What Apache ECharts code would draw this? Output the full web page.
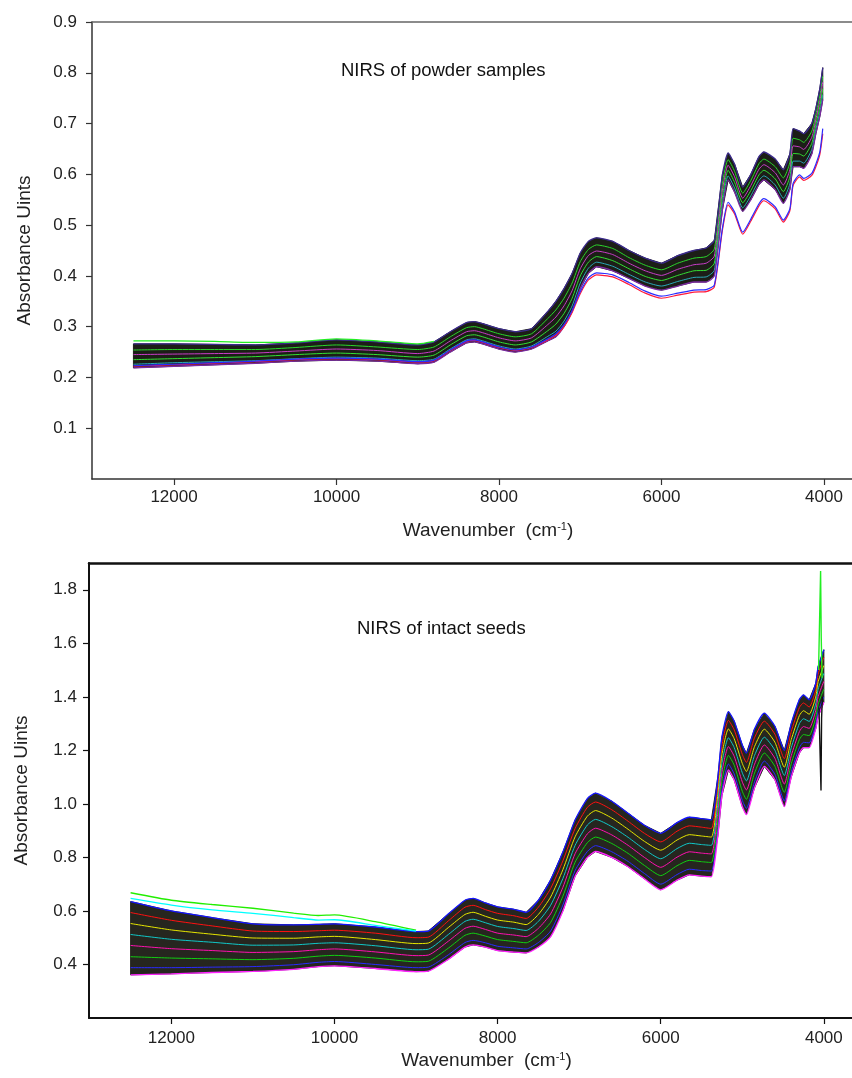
<!DOCTYPE html>
<html>
<head>
<meta charset="utf-8">
<script src="https://cdn.jsdelivr.net/npm/echarts@6/dist/echarts.min.js"></script>
<style>html,body{margin:0;padding:0;background:#fff}#c{width:852px;height:1078px}</style>
</head>
<body>
<div id="c"></div>
<script>
// ---------- Panel 1: NIRS of powder samples ----------
const powderWavenumbers = [12500,12000,11500,11000,10500,10000,9500,9000,8800,8600,8400,8300,8200,8000,7800,7600,7400,7300,7200,7100,7000,6900,6800,6600,6400,6200,6000,5800,5600,5450,5350,5250,5180,5100,5000,4900,4800,4740,4600,4500,4420,4380,4300,4250,4150,4100,4050,4015];
const powderUpper = [.266,.266,.265,.264,.268,.274,.270,.264,.270,.290,.308,.310,.306,.296,.290,.296,.330,.350,.375,.405,.445,.468,.475,.468,.450,.435,.425,.440,.450,.455,.470,.600,.642,.620,.575,.600,.635,.644,.630,.609,.640,.690,.685,.680,.700,.730,.770,.810];
const powderLower = [.219,.222,.225,.228,.232,.234,.232,.227,.230,.250,.268,.270,.266,.256,.250,.256,.272,.280,.300,.330,.375,.405,.418,.410,.395,.380,.372,.380,.388,.388,.400,.530,.589,.565,.527,.550,.580,.589,.570,.543,.570,.615,.615,.612,.640,.680,.715,.747];
const powderLine1 = [.254,.255,.255,.255,.259,.264,.260,.255,.260,.280,.298,.300,.296,.286,.280,.286,.316,.333,.356,.386,.428,.452,.461,.454,.436,.421,.412,.425,.435,.438,.453,.583,.629,.606,.563,.588,.621,.630,.615,.593,.623,.671,.668,.663,.685,.718,.756,.794];
const powderLine2 = [.245,.246,.247,.248,.252,.256,.253,.247,.252,.272,.290,.292,.288,.278,.272,.278,.304,.319,.341,.371,.414,.440,.449,.442,.425,.410,.401,.413,.422,.425,.439,.569,.618,.595,.553,.578,.610,.619,.603,.579,.609,.656,.654,.649,.673,.708,.745,.782];
const powderLine3 = [.235,.237,.239,.241,.245,.248,.245,.240,.244,.264,.282,.284,.280,.270,.264,.270,.292,.305,.326,.356,.400,.427,.438,.430,.414,.399,.391,.401,.410,.411,.425,.555,.608,.584,.544,.568,.599,.608,.591,.566,.595,.641,.640,.636,.661,.698,.734,.769];
const powderLine4 = [.226,.229,.231,.233,.237,.240,.238,.233,.236,.256,.274,.276,.272,.262,.256,.262,.281,.291,.311,.341,.386,.415,.427,.419,.403,.388,.380,.389,.397,.398,.411,.541,.597,.573,.534,.558,.588,.597,.579,.553,.581,.626,.626,.622,.649,.688,.723,.757];
const powderOutlierRed = [.222,.225,.228,.231,.235,.237,.235,.230,.233,.253,.271,.273,.269,.259,.253,.259,.274,.283,.300,.328,.365,.392,.402,.398,.383,.366,.356,.362,.368,.369,.378,.490,.540,.522,.482,.508,.538,.548,.532,.506,.528,.578,.595,.588,.598,.615,.640,.680];
const powderOutlierBlue = [.223,.226,.229,.232,.236,.238,.236,.231,.234,.254,.272,.274,.270,.260,.254,.260,.276,.286,.304,.332,.369,.396,.406,.402,.387,.370,.360,.366,.372,.373,.382,.494,.545,.526,.486,.512,.542,.552,.536,.510,.532,.582,.599,.592,.602,.620,.645,.690];
const powderGreenTopW = [12500,12000,11500,11000,10500,10000,9500,9000,8800];
const powderGreenTop = [.272,.272,.271,.269,.270,.276,.272,.266,.271];

// ---------- Panel 2: NIRS of intact seeds ----------
const seedWavenumbers = [12500,12000,11500,11000,10500,10200,10000,9500,9000,8850,8600,8400,8300,8150,8000,7800,7650,7500,7350,7200,7050,6900,6800,6600,6400,6200,6000,5800,5650,5500,5380,5300,5250,5170,5100,5000,4950,4850,4730,4600,4485,4400,4300,4250,4180,4100,4070,4000];
const seedUpper = [.635,.600,.575,.552,.548,.550,.552,.540,.523,.525,.590,.640,.647,.630,.615,.606,.595,.640,.716,.820,.940,1.020,1.040,1.010,.965,.920,.890,.930,.950,.945,.940,1.100,1.250,1.345,1.310,1.220,1.190,1.280,1.339,1.290,1.200,1.300,1.390,1.407,1.389,1.450,1.513,1.576];
const seedLower = [.361,.365,.370,.374,.382,.392,.395,.385,.373,.375,.420,.465,.473,.465,.452,.446,.443,.465,.504,.600,.730,.800,.822,.800,.765,.720,.679,.715,.735,.730,.728,.880,1.030,1.127,1.090,.990,.960,1.060,1.140,1.090,.990,1.100,1.190,1.210,1.210,1.280,1.326,1.380];
const seedLine1 = [.594,.565,.544,.525,.523,.526,.528,.517,.500,.502,.564,.614,.621,.605,.591,.582,.572,.614,.684,.787,.908,.987,1.007,.978,.935,.890,.858,.898,.918,.913,.908,1.067,1.217,1.312,1.277,1.185,1.155,1.247,1.309,1.260,1.169,1.270,1.360,1.377,1.362,1.424,1.485,1.547];
const seedLine2 = [.553,.529,.513,.499,.498,.503,.505,.493,.478,.480,.539,.587,.595,.580,.566,.558,.549,.587,.652,.754,.877,.954,.975,.947,.905,.860,.827,.865,.885,.880,.876,1.034,1.184,1.280,1.244,1.151,1.121,1.214,1.279,1.230,1.137,1.240,1.330,1.348,1.335,1.399,1.457,1.517];
const seedLine3 = [.512,.494,.483,.472,.473,.479,.481,.470,.455,.457,.513,.561,.569,.556,.542,.534,.527,.561,.621,.721,.845,.921,.942,.915,.875,.830,.795,.833,.853,.848,.845,1.001,1.151,1.247,1.211,1.116,1.086,1.181,1.249,1.200,1.106,1.210,1.300,1.318,1.308,1.373,1.429,1.488];
const seedLine4 = [.471,.459,.452,.445,.448,.455,.458,.447,.433,.435,.488,.535,.543,.531,.517,.510,.504,.535,.589,.688,.814,.888,.909,.884,.845,.800,.763,.801,.821,.816,.813,.968,1.118,1.214,1.178,1.082,1.052,1.148,1.220,1.170,1.074,1.180,1.270,1.289,1.282,1.348,1.401,1.458];
const seedLine5 = [.429,.424,.421,.418,.423,.431,.434,.424,.410,.412,.462,.509,.517,.506,.493,.486,.481,.509,.557,.655,.782,.855,.876,.852,.815,.770,.732,.769,.789,.784,.781,.935,1.085,1.181,1.145,1.047,1.017,1.115,1.190,1.140,1.043,1.150,1.240,1.259,1.255,1.322,1.373,1.429];
const seedLine6 = [.388,.388,.390,.392,.399,.408,.411,.400,.388,.390,.437,.482,.490,.481,.468,.462,.458,.482,.525,.622,.751,.822,.844,.821,.785,.740,.700,.736,.756,.751,.749,.902,1.052,1.149,1.112,1.013,.983,1.082,1.160,1.110,1.011,1.120,1.210,1.230,1.228,1.297,1.345,1.400];
const seedTopW = [12500,12000,11500,11000,10500,10200,10000,9500,9000];
const seedGreenTop = [.668,.640,.624,.610,.592,.583,.585,.560,.528];
const seedCyanTop = [.647,.622,.604,.591,.575,.566,.567,.546,.525];
const seedSpikeUpW = [4065,4040,4032,4022];
const seedSpikeUp = [1.50,1.87,1.62,1.47];
const seedSpikeDownW = [4060,4035,4028,4018];
const seedSpikeDown = [1.36,1.05,1.32,1.40];

// ---------- Axis ticks ----------
const xTicks = [4000,6000,8000,10000,12000];
const yTicksPowder = [0.1,0.2,0.3,0.4,0.5,0.6,0.7,0.8,0.9];
const yTicksSeed = [0.4,0.6,0.8,1.0,1.2,1.4,1.6,1.8];

const FONT = "'Liberation Sans', Arial, Helvetica, sans-serif";
const pairs = (ws, vs) => ws.map((w, i) => [w, vs[i]]);

function line(grid, ws, vs, color, width, z, smooth) {
  return {type: 'line', xAxisIndex: grid * 2, yAxisIndex: grid, data: pairs(ws, vs),
    showSymbol: false, symbol: 'none', smooth: smooth === undefined ? 0.2 : smooth, z: z || 3,
    lineStyle: {color: color, width: width || 1}, silent: true};
}
// filled envelope between upper and lower spectra, positioned through the axes (api.coord)
function band(grid, ws, top, bot, fill) {
  return {type: 'custom', coordinateSystem: 'cartesian2d', xAxisIndex: grid * 2, yAxisIndex: grid,
    data: [[ws[0], top[0]]], clip: true, silent: true, z: 1,
    renderItem: function (params, api) {
      const upper = ws.map((w, i) => api.coord([w, top[i]]));
      const lower = ws.map((w, i) => api.coord([w, bot[i]])).reverse();
      return {type: 'polygon', shape: {points: upper.concat(lower)},
        style: {fill: fill, stroke: fill, lineWidth: 1}};
    }};
}

function xAxisPair(grid, lineColor, lineW, topColor, topW, labelMargin, nameGap) {
  return [
    {type: 'value', gridIndex: grid, inverse: true, min: 3655, max: 13010, position: 'bottom',
      axisLine: {show: true, onZero: false, lineStyle: {color: lineColor, width: lineW}},
      axisTick: {show: true, inside: false, length: 6, customValues: xTicks, lineStyle: {color: lineColor, width: 1.2}},
      axisLabel: {show: true, customValues: xTicks, margin: labelMargin, fontSize: 17, color: '#222', fontFamily: FONT,
        formatter: v => String(v)},
      splitLine: {show: false},
      name: 'Wavenumber  (cm{s|-1})', nameLocation: 'middle', nameGap: nameGap,
      nameTextStyle: {fontSize: 19, color: '#222', fontFamily: FONT, padding: [0, 0, 0, 32],
        rich: {s: {fontSize: 11, fontFamily: FONT, color: '#222', padding: [0, 0, 9, 0]}}}},
    {type: 'value', gridIndex: grid, inverse: true, min: 3655, max: 13010, position: 'top',
      axisLine: {show: true, onZero: false, lineStyle: {color: topColor, width: topW}},
      axisTick: {show: false}, axisLabel: {show: false}, splitLine: {show: false}}
  ];
}
function yAxis(grid, min, max, ticks, lineColor, lineW, labelMargin) {
  return {type: 'value', gridIndex: grid, min: min, max: max,
    axisLine: {show: true, onZero: false, lineStyle: {color: lineColor, width: lineW}},
    axisTick: {show: true, length: 6, customValues: ticks, lineStyle: {color: lineColor, width: 1.2}},
    axisLabel: {show: true, customValues: ticks, margin: labelMargin, fontSize: 17, color: '#222', fontFamily: FONT,
      formatter: v => v.toFixed(1)},
    splitLine: {show: false},
    name: 'Absorbance Uints', nameLocation: 'middle', nameRotate: 90, nameGap: 58,
    nameTextStyle: {fontSize: 19, color: '#222', fontFamily: FONT}};
}

const series = [
  band(0, powderWavenumbers, powderUpper, powderLower, '#1c1e17'),
  line(0, powderWavenumbers, powderLine1, '#2bd62b', 1),
  line(0, powderWavenumbers, powderLine2, '#c83cc8', 1),
  line(0, powderWavenumbers, powderLine3, '#33e033', 1),
  line(0, powderWavenumbers, powderLine4, '#2aa8b8', 1),
  line(0, powderWavenumbers, powderUpper, '#3b2a8c', 1.3),
  line(0, powderWavenumbers, powderLower, '#7a2aa0', 1.3),
  line(0, powderWavenumbers, powderOutlierRed, '#ff1a3c', 1.2),
  line(0, powderWavenumbers, powderOutlierBlue, '#2b2bff', 1.2),
  line(0, powderGreenTopW, powderGreenTop, '#22ee22', 1.2),

  band(1, seedWavenumbers, seedUpper, seedLower, '#26261f'),
  line(1, seedWavenumbers, seedLine1, '#ff1010', 1),
  line(1, seedWavenumbers, seedLine2, '#e6e600', 1),
  line(1, seedWavenumbers, seedLine3, '#10c8c8', 1),
  line(1, seedWavenumbers, seedLine4, '#ff10b0', 1),
  line(1, seedWavenumbers, seedLine5, '#10d010', 1),
  line(1, seedWavenumbers, seedLine6, '#2a2aff', 1),
  line(1, seedWavenumbers, seedUpper, '#1515ff', 1.3),
  line(1, seedWavenumbers, seedLower, '#ff22ff', 1.3),
  line(1, seedTopW, seedGreenTop, '#22ee00', 1.3),
  line(1, seedTopW, seedCyanTop, '#00ffff', 1.3),
  line(1, seedSpikeUpW, seedSpikeUp, '#22ee22', 1.4, 4, false),
  line(1, seedSpikeDownW, seedSpikeDown, '#111111', 1.4, 4, false)
];

const chart = echarts.init(document.getElementById('c'), null, {renderer: 'canvas'});
chart.setOption({
  animation: false,
  backgroundColor: '#ffffff',
  title: [
    {text: 'NIRS of powder samples', left: 341, top: 61, padding: 0, textStyle: {fontSize: 18.5, fontWeight: 'normal', color: '#111', fontFamily: FONT}},
    {text: 'NIRS of intact seeds', left: 357, top: 619, padding: 0, textStyle: {fontSize: 18.5, fontWeight: 'normal', color: '#111', fontFamily: FONT}}
  ],
  grid: [
    {left: 92, top: 22, right: 0, bottom: 599, containLabel: false},
    {left: 89, top: 563, right: 0, bottom: 60, containLabel: false}
  ],
  xAxis: [].concat(
    xAxisPair(0, '#333', 1.5, '#666', 1.5, 10, 42),
    xAxisPair(1, '#111', 2, '#111', 2.5, 12, 33)
  ),
  yAxis: [
    yAxis(0, 0, 0.9, yTicksPowder, '#333', 1.5, 15),
    yAxis(1, 0.2, 1.9, yTicksSeed, '#111', 2, 12)
  ],
  series: series
});
</script>
</body>
</html>
